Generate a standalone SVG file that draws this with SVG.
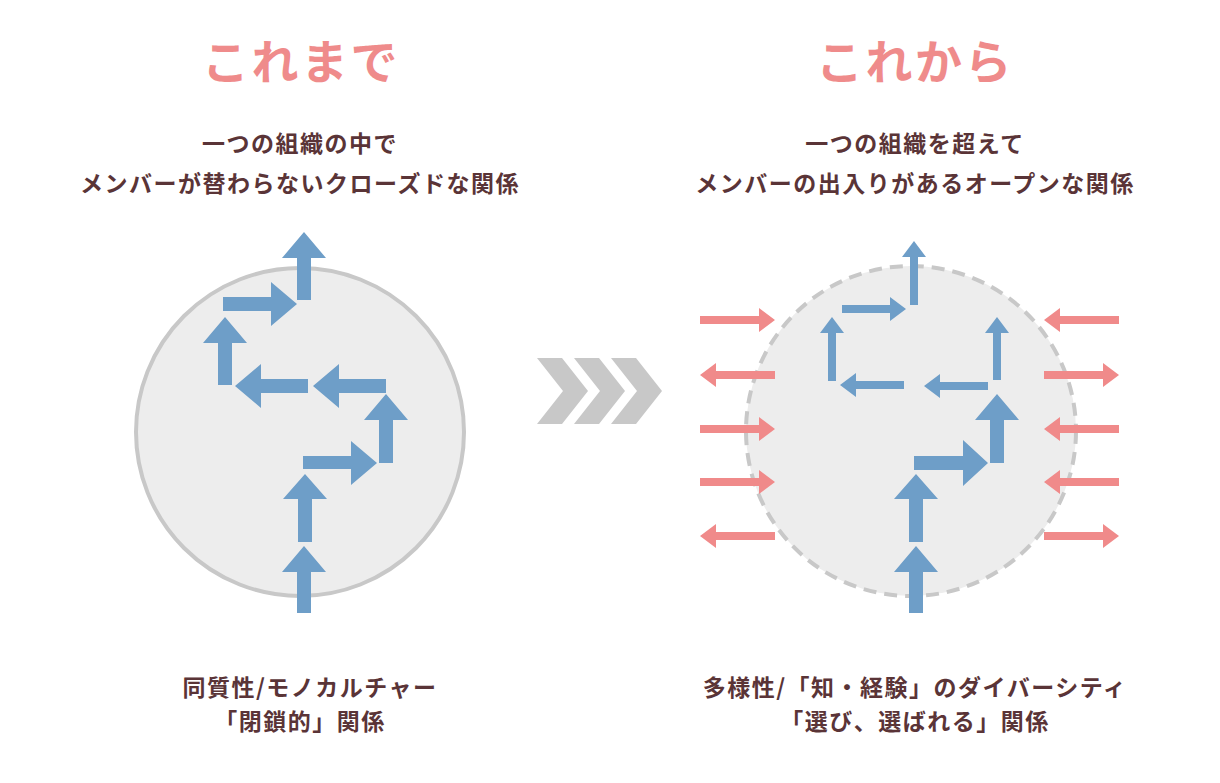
<svg xmlns="http://www.w3.org/2000/svg" width="1220" height="783" viewBox="0 0 1220 783">
<style>
.t{font-family:"Noto Sans CJK JP","Noto Sans",sans-serif;font-weight:bold;text-anchor:middle}
.h{fill:#ef8b8b;font-size:47px;letter-spacing:2.5px}
.s{fill:#5a3437;font-size:23px;letter-spacing:1.5px}
.b{fill:#6e9ec8}
.p{fill:#f08a8a}
</style>
<rect width="1220" height="783" fill="#fff"/>
<g id="left-title"><text class="t h" x="301" y="79">これまで</text></g>
<g id="right-title"><text class="t h" x="915" y="79">これから</text></g>
<g id="left-sub"><text class="t s" x="300" y="152">一つの組織の中で</text><text class="t s" x="300" y="192">メンバーが替わらないクローズドな関係</text></g>
<g id="right-sub"><text class="t s" x="915" y="152">一つの組織を超えて</text><text class="t s" x="915" y="192">メンバーの出入りがあるオープンな関係</text></g>
<g id="left-cap"><text class="t s" x="310" y="696">同質性/モノカルチャー</text><text class="t s" x="300" y="730">「閉鎖的」関係</text></g>
<g id="right-cap"><text class="t s" x="915" y="696">多様性/「知・経験」のダイバーシティ</text><text class="t s" x="915" y="730">「選び、選ばれる」関係</text></g>
<g id="left-circle"><circle cx="300" cy="432" r="164" fill="#ededed" stroke="#c8c8c8" stroke-width="4"/></g>
<g id="right-circle"><circle cx="911" cy="431" r="165" fill="#ededed" stroke="#c8c8c8" stroke-width="4" stroke-dasharray="13 8"/></g>
<g id="chevrons" fill="#c8c8c8">
<polygon points="537,358 562,358 588,391 562,424 537,424 563,391"/>
<polygon points="574,358 599,358 625,391 599,424 574,424 600,391"/>
<polygon points="611,358 636,358 662,391 636,424 611,424 637,391"/>
</g>
<g id="connectors">
<g class="b">
<polygon points="297,613 311,613 311,572 326,572 304,546 282,572 297,572"/>
<polygon points="298,542 312,542 312,499 327,499 305,474 283,499 298,499"/>
<polygon points="303,456 351,456 351,441 377,463 351,485 351,469 303,469"/>
<polygon points="379,463 393,463 393,420 408,420 386,394 364,420 379,420"/>
<polygon points="386,379 339,379 339,364 313,386 339,408 339,393 386,393"/>
<polygon points="308,379 261,379 261,364 235,386 261,408 261,393 308,393"/>
<polygon points="218,385 232,385 232,343 247,343 225,317 203,343 218,343"/>
<polygon points="223,297 271,297 271,282 297,304 271,326 271,311 223,311"/>
<polygon points="297,300 311,300 311,258 326,258 304,232 282,258 297,258"/>
<polygon points="909,613 923,613 923,572 938,572 916,546 894,572 909,572"/>
<polygon points="909,542 923,542 923,499 938,499 916,474 894,499 909,499"/>
<polygon points="914,456 963,456 963,440 988,463 963,486 963,470 914,470"/>
<polygon points="990,463 1004,463 1004,420 1019,420 997,394 975,420 990,420"/>
<polygon points="910,305 918,305 918,257 926,257 914,241 902,257 910,257"/>
<polygon points="842,305 890,305 890,297 906,309 890,321 890,313 842,313"/>
<polygon points="828,381 836,381 836,333 844,333 832,317 820,333 828,333"/>
<polygon points="904,381 856,381 856,373 840,385 856,397 856,389 904,389"/>
<polygon points="988,382 940,382 940,374 924,386 940,398 940,390 988,390"/>
<polygon points="993,380 1001,380 1001,333 1009,333 997,317 985,333 993,333"/>
</g>
<g class="p">
<polygon points="700,316 759,316 759,308 775,320 759,332 759,324 700,324"/>
<polygon points="775,371 716,371 716,363 700,375 716,387 716,379 775,379"/>
<polygon points="700,425 759,425 759,417 775,429 759,441 759,433 700,433"/>
<polygon points="700,478 759,478 759,470 775,482 759,494 759,486 700,486"/>
<polygon points="775,532 716,532 716,524 700,536 716,548 716,540 775,540"/>
<polygon points="1119,316 1060,316 1060,308 1044,320 1060,332 1060,324 1119,324"/>
<polygon points="1044,371 1103,371 1103,363 1119,375 1103,387 1103,379 1044,379"/>
<polygon points="1119,425 1060,425 1060,417 1044,429 1060,441 1060,433 1119,433"/>
<polygon points="1119,478 1060,478 1060,470 1044,482 1060,494 1060,486 1119,486"/>
<polygon points="1044,532 1103,532 1103,524 1119,536 1103,548 1103,540 1044,540"/>
</g>
</g>
</svg>
